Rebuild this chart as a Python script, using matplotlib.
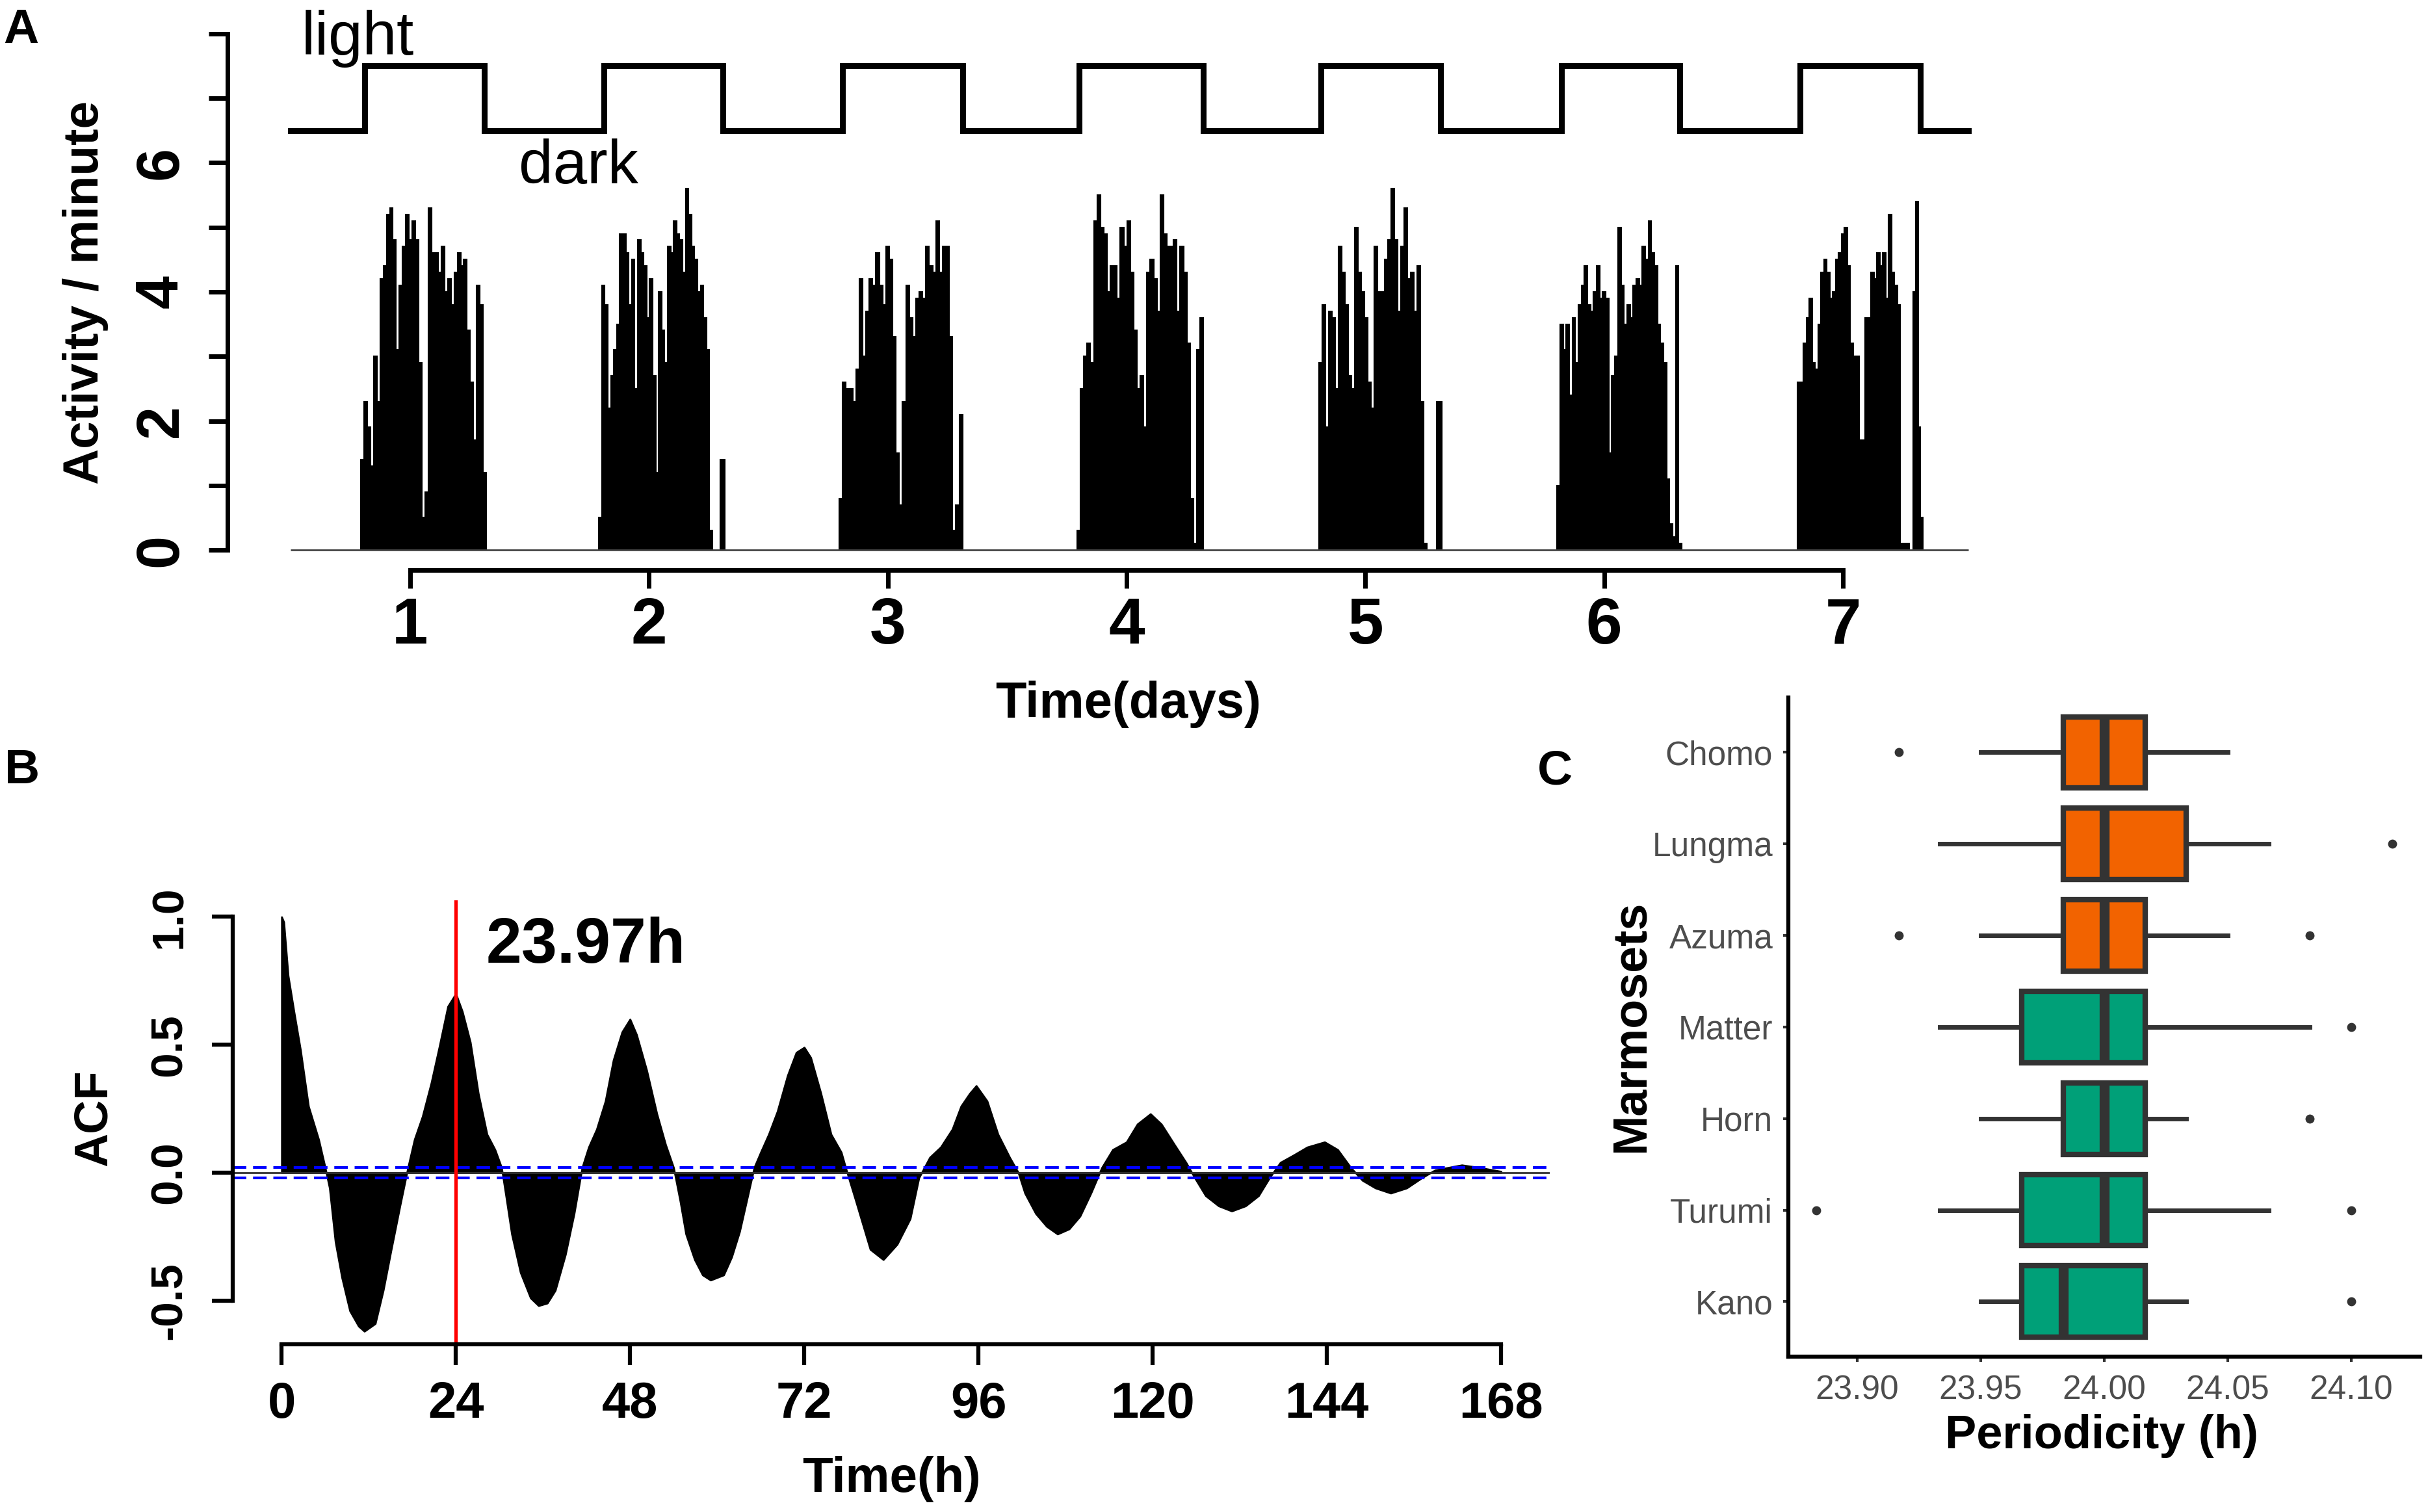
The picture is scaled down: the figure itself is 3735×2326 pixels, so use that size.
import numpy as np
import matplotlib.pyplot as plt

plt.rcParams['font.family'] = ['Liberation Sans', 'DejaVu Sans']

# ---------------- Panel A: activity / minute over 7 days ----------------
light_on = [0.81, 1.81, 2.81, 3.80, 4.815, 5.82, 6.82]
light_off = [1.31, 2.31, 3.315, 4.32, 5.315, 6.317, 7.325]
ld_start, ld_end = 0.5, 7.526
ld_low, ld_high = 6.5, 7.5

# activity bursts (start day, end day, bin heights)
burst_start = [0.793, 1.790, 2.797, 3.793, 4.805, 5.803, 6.810, 2.298, 5.298, 7.295]
burst_end = [1.319, 2.266, 3.313, 4.322, 5.258, 6.325, 7.277, 2.319, 5.321, 7.335]
day1 = [1.4, 2.3, 1.9, 1.3, 3.0, 2.3, 4.2, 4.4, 5.2, 5.3, 4.8, 3.1, 4.1, 4.7, 5.2, 4.8, 5.1, 4.8, 2.9, 0.5,
        0.9, 5.3, 4.6, 4.6, 4.3, 4.7, 4.0, 4.2, 3.8, 4.3, 4.6, 4.4, 4.5, 3.4, 2.6, 1.7, 4.1, 3.8, 1.2]
day2 = [0.5, 4.1, 3.8, 2.2, 2.7, 3.1, 3.5, 4.9, 4.9, 4.6, 3.8, 4.5, 2.5, 4.8, 4.6, 4.4, 3.6, 4.2, 2.7, 1.2,
        4.0, 3.4, 2.9, 4.7, 4.6, 5.1, 4.9, 4.8, 4.3, 5.6, 5.2, 4.7, 4.5, 4.0, 4.1, 3.6, 3.1, 0.3]
day3 = [0.8, 2.6, 2.5, 2.5, 2.3, 2.8, 4.2, 3.0, 3.7, 4.2, 4.1, 4.6, 4.1, 3.8, 4.7, 4.5, 3.3, 1.5, 0.7, 2.3,
        4.1, 3.6, 3.3, 3.9, 4.0, 3.9, 4.7, 4.4, 4.3, 5.1, 4.3, 4.7, 4.7, 3.3, 0.3, 0.7, 2.1]
day4 = [0.3, 2.5, 3.0, 3.2, 2.9, 5.1, 5.5, 5.0, 4.9, 4.0, 4.4, 4.4, 3.9, 5.0, 4.7, 5.1, 4.3, 3.4, 2.5, 2.7,
        1.9, 4.3, 4.5, 4.2, 3.7, 5.5, 4.9, 4.7, 4.7, 4.8, 3.7, 4.7, 4.3, 3.2, 0.8, 0.1, 3.1, 3.6]
day5 = [2.9, 3.8, 1.9, 3.7, 3.6, 2.5, 4.7, 4.3, 3.8, 2.7, 2.5, 5.0, 4.3, 4.0, 3.6, 2.6, 2.2, 4.7, 4.0, 4.0,
        4.5, 4.8, 5.6, 4.8, 3.7, 4.7, 5.3, 4.2, 4.3, 3.7, 4.4, 2.3, 0.1]
day6 = [1.0, 3.5, 3.1, 3.5, 2.4, 3.6, 2.9, 3.8, 4.1, 4.4, 3.8, 3.7, 4.0, 4.4, 3.9, 4.0, 3.9, 1.5, 2.7, 3.0,
        5.0, 4.1, 3.5, 3.8, 3.6, 4.1, 4.2, 4.1, 4.7, 4.5, 5.1, 4.6, 4.4, 3.5, 3.2, 2.9, 1.1, 0.4, 0.2, 4.4, 0.1]
day7 = [2.6, 2.6, 3.2, 3.6, 3.9, 2.9, 2.8, 3.5, 4.3, 4.5, 4.3, 3.9, 4.0, 4.5, 4.6, 4.9, 5.0, 4.4, 3.2, 3.0,
        3.0, 1.7, 1.7, 3.6, 3.6, 4.3, 4.2, 4.6, 4.4, 4.6, 3.9, 5.2, 4.3, 4.1, 3.8, 0.1, 0.1, 0.1]
spike2 = [1.4]
spike5 = [2.3]
spike7 = [4.0, 5.4, 1.9, 0.5]
burst_heights = [day1, day2, day3, day4, day5, day6, day7, spike2, spike5, spike7]

# ---------------- Panel B: autocorrelation ----------------
acf_lag = [0, 0.3, 0.9, 1.7, 2.6, 3.7, 5.1, 6.0, 6.6, 7.4,
           8.3, 9.4, 10.6, 11.4, 12.9, 14.0, 15.1, 16.3, 17.4, 18.3,
           19.4, 20.6, 21.7, 22.9, 24.0, 24.9, 26.0, 27.1, 28.3, 29.4,
           30.3, 30.9, 31.7, 32.9, 34.3, 35.4, 36.6, 37.7, 39.1, 40.3,
           41.4, 42.3, 43.4, 44.6, 45.7, 46.9, 48.0, 48.9, 50.3, 51.7,
           52.9, 54.0, 54.9, 55.7, 56.9, 58.0, 59.1, 60.9, 62.0, 63.1,
           64.3, 65.1, 66.0, 67.1, 68.3, 69.7, 70.9, 72.0, 72.9, 74.3,
           75.7, 77.1, 77.7, 79.1, 81.1, 82.9, 84.8, 86.6, 87.8, 89.3,
           90.8, 92.4, 93.6, 94.8, 95.7, 97.2, 98.7, 100.3, 101.5, 102.4,
           103.9, 105.4, 106.9, 108.5, 110.0, 111.5, 113.0, 114.5, 116.4, 117.9,
           119.7, 121.2, 123.0, 124.6, 125.8, 127.3, 129.1, 130.9, 132.8, 134.6,
           136.1, 137.6, 139.5, 141.3, 143.7, 145.5, 147.3, 148.9, 150.7, 152.8,
           155.0, 157.1, 158.9, 160.7, 162.6, 165.0, 168.0]
acf_value = [1.0, 0.98, 0.77, 0.63, 0.48, 0.26, 0.13, 0.02, -0.06, -0.27,
             -0.41, -0.54, -0.60, -0.62, -0.59, -0.46, -0.30, -0.13, 0.02, 0.13,
             0.22, 0.35, 0.49, 0.65, 0.70, 0.63, 0.51, 0.31, 0.15, 0.09,
             0.02, -0.09, -0.24, -0.39, -0.49, -0.52, -0.51, -0.46, -0.32, -0.16,
             0.02, 0.10, 0.17, 0.28, 0.44, 0.55, 0.60, 0.54, 0.40, 0.23,
             0.11, 0.02, -0.11, -0.24, -0.34, -0.40, -0.42, -0.40, -0.33, -0.23,
             -0.08, 0.02, 0.08, 0.15, 0.24, 0.38, 0.47, 0.49, 0.45, 0.31,
             0.15, 0.08, 0.02, -0.11, -0.30, -0.34, -0.28, -0.18, -0.02, 0.06,
             0.10, 0.17, 0.26, 0.31, 0.34, 0.28, 0.15, 0.06, 0.0, -0.08,
             -0.16, -0.21, -0.24, -0.22, -0.17, -0.08, 0.02, 0.09, 0.12, 0.19,
             0.23, 0.19, 0.11, 0.04, -0.02, -0.09, -0.13, -0.15, -0.13, -0.09,
             -0.02, 0.04, 0.07, 0.10, 0.12, 0.09, 0.02, -0.03, -0.06, -0.08,
             -0.06, -0.02, 0.01, 0.02, 0.03, 0.02, 0.005]
acf_period = 23.97
acf_ci = 0.02

# ---------------- Panel C: periodicity per marmoset ----------------
marmosets = ['Kano', 'Turumi', 'Horn', 'Matter', 'Azuma', 'Lungma', 'Chomo']
whisker_lo = [23.95, 23.9333, 23.95, 23.9333, 23.95, 23.9333, 23.95]
box_q1 = [23.9667, 23.9667, 23.9833, 23.9667, 23.9833, 23.9833, 23.9833]
box_med = [23.9833, 24.0, 24.0, 24.0, 24.0, 24.0, 24.0]
box_q3 = [24.0167, 24.0167, 24.0167, 24.0167, 24.0167, 24.0333, 24.0167]
whisker_hi = [24.0333, 24.0667, 24.0333, 24.0833, 24.05, 24.0667, 24.05]
outliers = [[24.1], [23.8833, 24.1], [24.0833], [24.1], [23.9167, 24.0833], [24.1167], [23.9167]]
group = ['g', 'g', 'g', 'g', 'o', 'o', 'o']
group_colors = {'o': '#F26300', 'g': '#00A078'}

fig = plt.figure(figsize=(37.35, 23.26), dpi=100)

# ---- A ----
axA = fig.add_axes([0.0937, 0.623, 0.745, 0.368])
wx, wy = [ld_start], [ld_low]
for on, off in zip(light_on, light_off):
    wx += [on, on, off, off]
    wy += [ld_low, ld_high, ld_high, ld_low]
wx.append(ld_end)
wy.append(ld_low)
axA.plot(wx, wy, color='black', lw=6.5, solid_joinstyle='miter')
for s, e, h in zip(burst_start, burst_end, burst_heights):
    edges = np.linspace(s, e, len(h) + 1)
    axA.stairs(h, edges, fill=True, color='black', lw=0)
    axA.stairs(h, edges, fill=False, color='black', lw=1.5)
axA.hlines(0, ld_start, ld_end, color='#444444', lw=2)
axA.text(0.545, 7.92, 'light', fontsize=68, va='center', ha='left')
axA.text(1.455, 5.93, 'dark', fontsize=68, va='center', ha='left')

axA.set_xlim(0.235, 7.81)
axA.set_ylim(-0.31, 8.31)
for sp in ['top', 'right']:
    axA.spines[sp].set_visible(False)
axA.spines['left'].set_bounds(0, 8)
axA.spines['bottom'].set_bounds(1, 7)
for sp in ['left', 'bottom']:
    axA.spines[sp].set_linewidth(5)
axA.set_xticks(range(1, 8), [str(d) for d in range(1, 8)], fontsize=72, fontweight='bold')
axA.set_yticks(range(9), ['0', '', '2', '', '4', '', '6', '', ''], fontsize=66, fontweight='bold',
               rotation=90, va='center')
axA.tick_params(axis='x', length=20, width=5, pad=9)
axA.tick_params(axis='y', length=21, width=5, pad=21)

# ---- B ----
axB = fig.add_axes([0.0959, 0.1109, 0.5424, 0.2937])
axB.fill_between(acf_lag, 0, acf_value, color='black', lw=2)
axB.axhline(0, color='#333333', lw=2)
axB.axhline(acf_ci, color='#0000FF', lw=3, dashes=(5, 2.5))
axB.axhline(-acf_ci, color='#0000FF', lw=3, dashes=(5, 2.5))
axB.axvline(acf_period, color='#FF0000', lw=3.8)
axB.text(28.2, 0.885, f'{acf_period:.2f}h', fontsize=71, fontweight='bold', va='center', ha='left')

axB.set_xlim(-6.72, 174.72)
axB.set_ylim(-0.671, 1.065)
for sp in ['top', 'right']:
    axB.spines[sp].set_visible(False)
axB.spines['left'].set_bounds(-0.5, 1.0)
axB.spines['bottom'].set_bounds(0, 168)
for sp in ['left', 'bottom']:
    axB.spines[sp].set_linewidth(4.5)
axB.set_xticks(range(0, 169, 24), [str(t) for t in range(0, 169, 24)], fontsize=56, fontweight='bold')
axB.set_yticks([-0.5, 0, 0.5, 1.0], ['-0.5', '0.0', '0.5', '1.0'], fontsize=50, fontweight='bold',
               rotation=90, va='center')
axB.tick_params(axis='x', length=23, width=4.5, pad=17)
axB.tick_params(axis='y', length=23, width=4.5, pad=24)

# ---- C ----
axC = fig.add_axes([0.7365, 0.1028, 0.2603, 0.4359])
stats = []
for i, name in enumerate(marmosets):
    stats.append(dict(label=name, whislo=whisker_lo[i], q1=box_q1[i], med=box_med[i],
                      q3=box_q3[i], whishi=whisker_hi[i], fliers=outliers[i]))
bp = axC.bxp(stats, positions=range(len(marmosets)), widths=0.78, orientation='horizontal',
             patch_artist=True, showcaps=False,
             boxprops=dict(edgecolor='#333333', linewidth=6),
             medianprops=dict(color='#333333', linewidth=11, solid_capstyle='butt'),
             whiskerprops=dict(color='#333333', linewidth=5),
             flierprops=dict(marker='o', markersize=10, markerfacecolor='#333333',
                             markeredgecolor='none'))
for patch, g in zip(bp['boxes'], group):
    patch.set_facecolor(group_colors[g])

axC.set_xlim(23.872, 24.128)
axC.set_ylim(-0.6, 6.6)
for sp in ['top', 'right']:
    axC.spines[sp].set_visible(False)
for sp in ['left', 'bottom']:
    axC.spines[sp].set_linewidth(4.5)
xt = [23.90, 23.95, 24.00, 24.05, 24.10]
axC.set_xticks(xt, [f'{v:.2f}' for v in xt])
axC.set_yticks(range(len(marmosets)), marmosets)
axC.tick_params(axis='both', length=6, width=3, color='#333333', labelsize=37, labelcolor='#4D4D4D')
axC.tick_params(axis='x', pad=14)
axC.tick_params(axis='y', pad=11)

# ---- labels ----
fig.text(0.0351, 0.8065, 'Activity / minute', fontsize=55, fontweight='bold', rotation=90,
         ha='center', va='center')
fig.text(0.4648, 0.534, 'Time(days)', fontsize=56, fontweight='bold', ha='center', va='center')
fig.text(0.0388, 0.2605, 'ACF', fontsize=52, fontweight='bold', rotation=90, ha='center', va='center')
fig.text(0.3671, 0.0215, 'Time(h)', fontsize=55, fontweight='bold', ha='center', va='center')
fig.text(0.6718, 0.3212, 'Marmosets', fontsize=53, fontweight='bold', rotation=90,
         ha='center', va='center')
fig.text(0.8656, 0.0503, 'Periodicity (h)', fontsize=52, fontweight='bold', ha='center', va='center')
fig.text(0.0085, 0.9800, 'A', fontsize=54, fontweight='bold', ha='center', va='center')
fig.text(0.0090, 0.4905, 'B', fontsize=54, fontweight='bold', ha='center', va='center')
fig.text(0.6405, 0.4895, 'C', fontsize=54, fontweight='bold', ha='center', va='center')

fig.savefig('out.png', dpi=100)
